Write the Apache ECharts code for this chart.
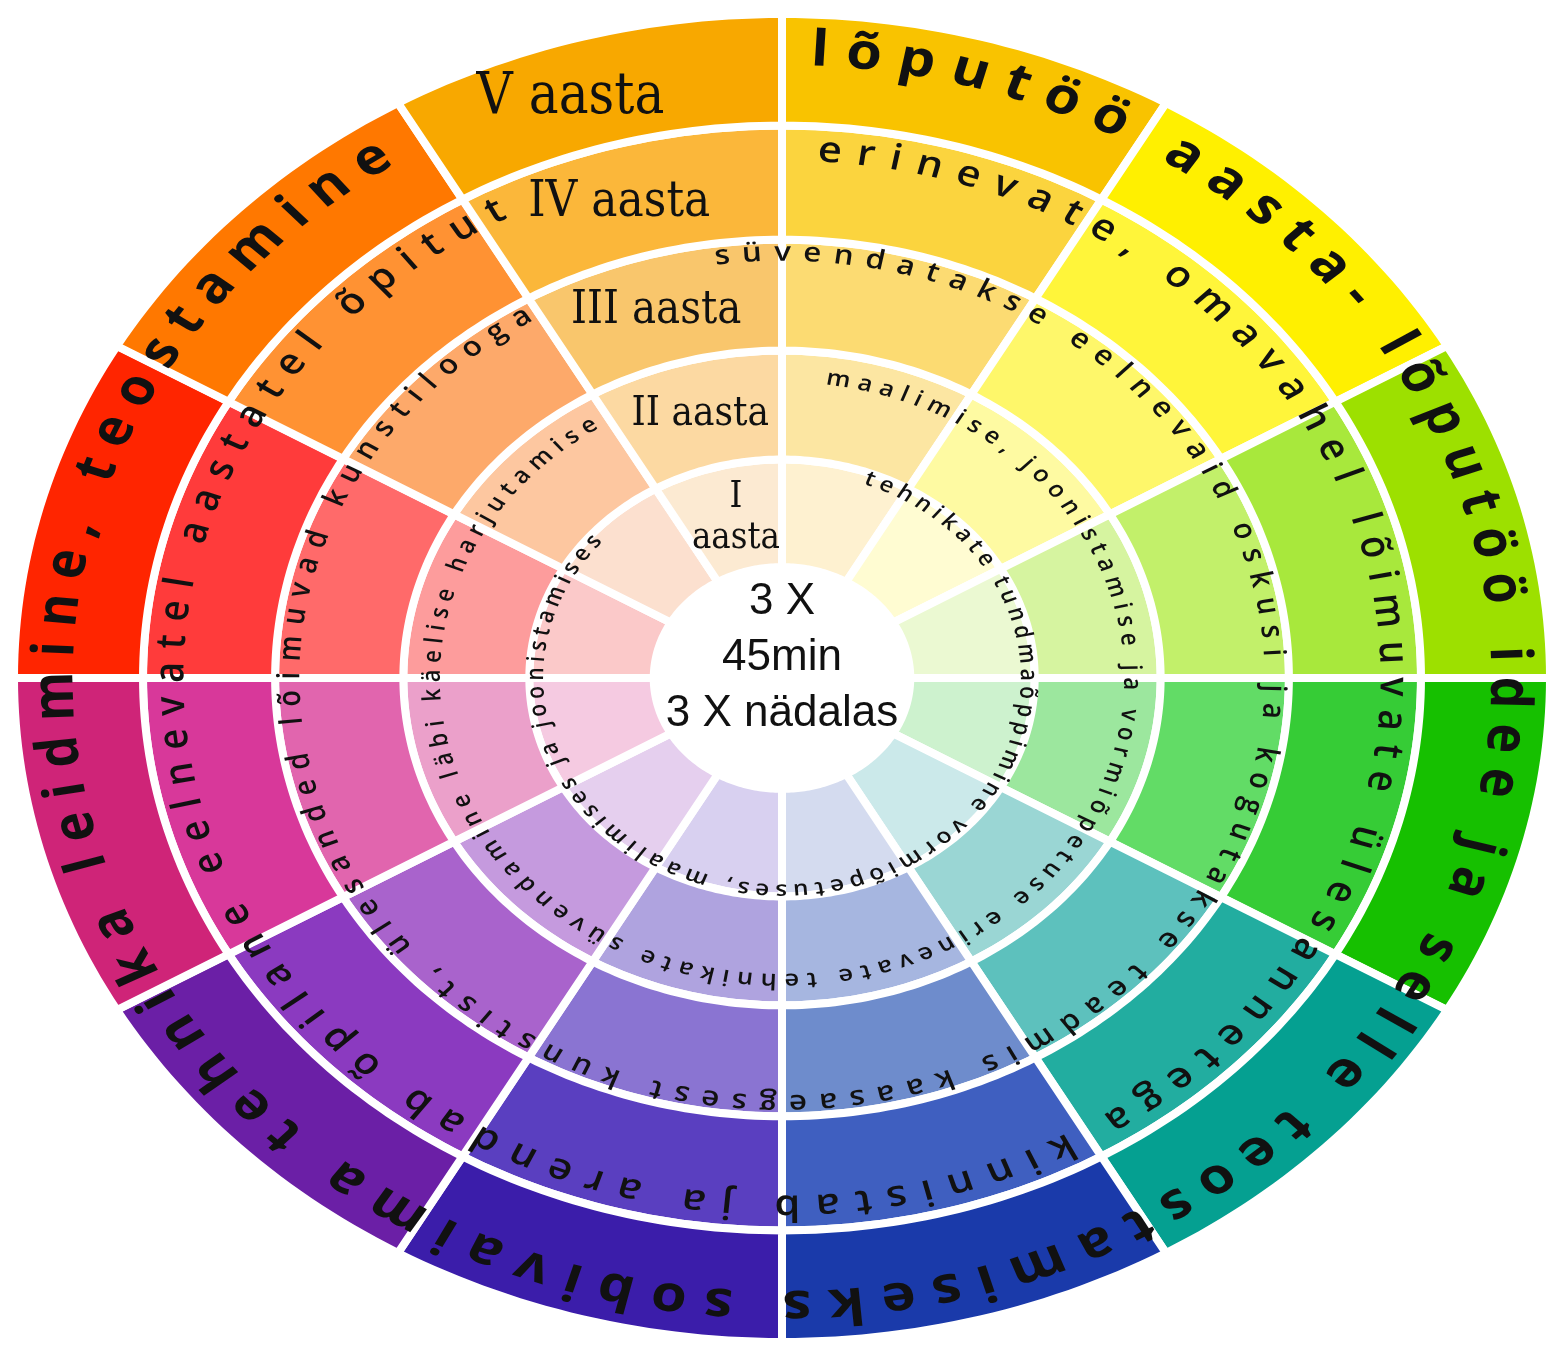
<!DOCTYPE html>
<html>
<head>
<meta charset="utf-8">
<script src="https://cdn.jsdelivr.net/npm/echarts@6/dist/echarts.min.js"></script>
<style>
  html, body { margin: 0; padding: 0; background: #fff; }
  #chart { width: 1551px; height: 1351px; }
</style>
</head>
<body>
<div id="chart"></div>
<script>
// ring edges as a fraction of the outer radius (centre hole -> outer rim)
const ringEdges = [0.167, 0.329, 0.493, 0.66, 0.832, 1];
const segmentCount = 12;

// colours per ring, clockwise from 12 o'clock (ring 1 = innermost)
const ring1Colors = ['#FEF1D0', '#FFFCD2', '#EBF9D2', '#CDF2CE', '#CBE9EA', '#D4DBEF', '#D8D0F0', '#E5CFEE', '#F5CAE1', '#FBC9C9', '#FCE0CF', '#FCEAD2'];
const ring2Colors = ['#FCE6A2', '#FEFAA2', '#D6F4A0', '#9CE79E', '#9AD6D4', '#A6B6E0', '#AFA3DF', '#C59ADE', '#EBA0CA', '#FD9C9C', '#FDC7A0', '#FCD9A2'];
const ring3Colors = ['#FCDB72', '#FEF76A', '#C2F06A', '#62DC66', '#5DC1BD', '#6E8CCC', '#8A74D2', '#A963CC', '#E165AE', '#FF6A6A', '#FDA96A', '#F9C66C'];
const ring4Colors = ['#FBD43E', '#FFF53A', '#A8E83C', '#36CC36', '#22ADA0', '#3F5FC0', '#5A3FC0', '#8B3AC0', '#D8389A', '#FF3B3B', '#FF9233', '#FBB73A'];
const ring5Colors = ['#F9C300', '#FFF000', '#9DE000', '#16C000', '#05A091', '#1A3AAA', '#3B1DAA', '#6B1FA6', '#CF2478', '#FF2500', '#FF7800', '#F8A800'];
const ringColors = [ring1Colors, ring2Colors, ring3Colors, ring4Colors, ring5Colors];

// curved texts, innermost ring first
const ringTexts = [
  'tehnikate tundmaõppimine vormiõpetuses, maalimises ja joonistamises',
  'maalimise, joonistamise ja vormiõpetuse erinevate tehnikate süvendamine läbi käelise harjutamise',
  'süvendatakse eelnevaid oskusi ja kogutakse teadmis kaasaegsest kunstist, ülesanded lõimuvad kunstilooga',
  'erinevate, omavahel lõimuvate ülesannetega kinnistab ja arendab õpilane eelnevatel aastatel õpitut',
  'lõputöö aasta- lõputöö idee ja selle teostamiseks sobivaima tehnika leidmine, teostamine'
];
// first / last letter angle (deg, clockwise from top) and radius of each text
const textStart = [21, 9.3, -7, 4.5, 3];
const textEnd = [310, 326.5, 328, 332, 325.6];
const textRadius = [0.32, 0.455, 0.64, 0.795, 0.945];
const textFontSize = [21, 22, 27, 36, 50];
const textFontWeight = [600, 600, 600, 600, 700];

const yearLabels = ['I\naasta', 'II aasta', 'III aasta', 'IV aasta', 'V aasta'];
const yearFontSize = [37, 41, 46, 50, 57];
const yearLabelAngle = [-14, -15, -16.5, -16.5, -17.5];

const centerLines = ['3 X', '45min', '3 X nädalas'];

const toRad = (d) => d * Math.PI / 180;
const polar = (r, deg) => [r * Math.sin(toRad(deg)), r * Math.cos(toRad(deg))];
const textFont = (ring) => `${textFontWeight[ring]} ${textFontSize[ring]}px "Open Sans"`;

const measureCtx = document.createElement('canvas').getContext('2d');
const layoutCache = {};
function ringLayout(ring, radiusPx) {
  if (layoutCache[ring]) return layoutCache[ring];
  const chars = Array.from(ringTexts[ring]);
  measureCtx.font = textFont(ring);
  const w = chars.map((c) => measureCtx.measureText(c).width);
  const span = toRad(textEnd[ring] - textStart[ring]) * radiusPx;
  let base = 0;
  for (let i = 1; i < chars.length; i++) base += (w[i - 1] + w[i]) / 2;
  const gap = (span - base) / (chars.length - 1);
  const angles = [textStart[ring]];
  let pos = 0;
  for (let i = 1; i < chars.length; i++) {
    pos += (w[i - 1] + w[i]) / 2 + gap;
    angles.push(textStart[ring] + (pos / radiusPx) * 180 / Math.PI);
  }
  layoutCache[ring] = { chars, angles };
  return layoutCache[ring];
}

const sectorData = [];
for (let ring = 0; ring < 5; ring++) {
  for (let seg = 0; seg < segmentCount; seg++) sectorData.push([seg, ring]);
}
const letterData = [];
ringTexts.forEach((t, ring) => {
  Array.from(t).forEach((c, i) => { if (c !== ' ') letterData.push([ring, i]); });
});

const chart = echarts.init(document.getElementById('chart'), null, { renderer: 'canvas' });
chart.setOption({
  animation: false,
  backgroundColor: '#fff',
  grid: { left: 14, right: 1, top: 14, bottom: 9 },
  xAxis: { type: 'value', min: -1, max: 1, show: false },
  yAxis: { type: 'value', min: -1, max: 1, show: false },
  series: [
    {
      type: 'custom',
      name: 'sectors',
      z: 1,
      data: sectorData,
      renderItem(params, api) {
        const seg = api.value(0);
        const ring = api.value(1);
        const step = 360 / segmentCount;
        const a0 = seg * step, a1 = (seg + 1) * step;
        const r0 = ringEdges[ring], r1 = ringEdges[ring + 1];
        const n = 30;
        const pts = [];
        for (let k = 0; k <= n; k++) pts.push(api.coord(polar(r1, a0 + (a1 - a0) * k / n)));
        for (let k = n; k >= 0; k--) pts.push(api.coord(polar(r0, a0 + (a1 - a0) * k / n)));
        return {
          type: 'polygon',
          shape: { points: pts },
          style: { fill: ringColors[ring][seg], stroke: '#fff', lineWidth: 8, lineJoin: 'round' }
        };
      }
    },
    {
      type: 'custom',
      name: 'ringText',
      z: 3,
      data: letterData,
      renderItem(params, api) {
        const ring = api.value(0);
        const idx = api.value(1);
        const sz = api.size([1, 1]);
        const lay = ringLayout(ring, textRadius[ring] * sz[1]);
        const ang = lay.angles[idx];
        const p = api.coord(polar(textRadius[ring], ang));
        return {
          type: 'group',
          x: p[0],
          y: p[1],
          scaleX: sz[0] / sz[1],
          children: [{
            type: 'text',
            rotation: -toRad(ang),
            style: {
              text: lay.chars[idx],
              font: textFont(ring),
              fill: '#111',
              align: 'center',
              verticalAlign: 'middle'
            }
          }]
        };
      }
    },
    {
      type: 'custom',
      name: 'years',
      z: 3,
      data: yearLabels.map((_, i) => [i]),
      renderItem(params, api) {
        const ring = api.value(0);
        const r = (ringEdges[ring] + ringEdges[ring + 1]) / 2;
        const p = api.coord(polar(r, yearLabelAngle[ring]));
        return {
          type: 'text',
          x: p[0],
          y: p[1],
          scaleX: 0.88,
          style: {
            text: yearLabels[ring],
            font: `${yearFontSize[ring]}px "DejaVu Serif", serif`,
            lineHeight: yearFontSize[ring] * 1.1,
            fill: '#111',
            align: 'center',
            verticalAlign: 'middle'
          }
        };
      }
    },
    {
      type: 'custom',
      name: 'center',
      z: 3,
      data: [[0, 0.03]],
      renderItem(params, api) {
        const p = api.coord([api.value(0), api.value(1)]);
        return {
          type: 'text',
          x: p[0],
          y: p[1],
          style: {
            text: centerLines.join('\n'),
            font: '44px "Liberation Sans", sans-serif',
            lineHeight: 56,
            fill: '#111',
            align: 'center',
            verticalAlign: 'middle'
          }
        };
      }
    }
  ]
});
</script>
</body>
</html>
